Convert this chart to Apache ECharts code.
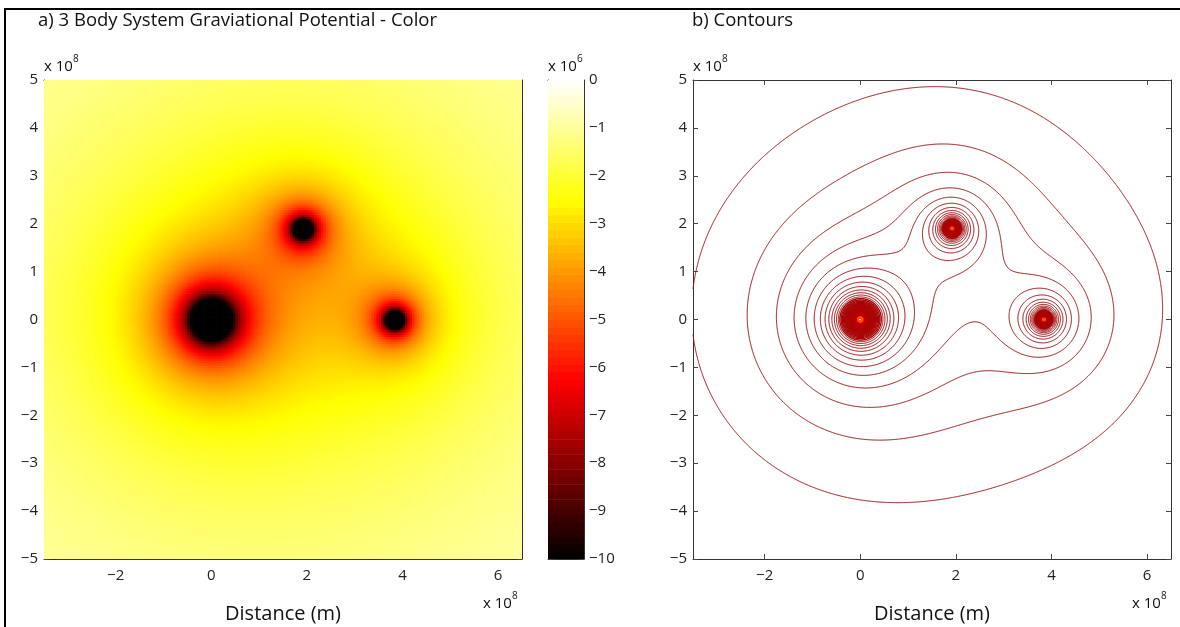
<!DOCTYPE html>
<html>
<head>
    <meta charset="utf-8" />
    <title>3 Body System Gravitational Potential</title>
    <script src="https://cdn.jsdelivr.net/npm/echarts@6/dist/echarts.min.js"></script>
    <style>
        html, body { margin: 0; padding: 0; background: #fff; }
        #main { width: 1180px; height: 627px; }
    </style>
</head>
<body>
    <div id="main"></div>
    <script>
        // bodies: positions (m) and masses (kg)
        var G = 6.674e-11;
        var bodyX = [0, 1.92e8, 3.84e8];
        var bodyY = [0, 1.90e8, 0];
        var bodyMass = [5.97e24, 2.47e24, 2.47e24];

        // axes, in units of 1e8 m
        var xRange = [-3.5, 6.5];
        var yRange = [-5, 5];
        var xTicks = [-2, 0, 2, 4, 6];
        var yTicks = [-5, -4, -3, -2, -1, 0, 1, 2, 3, 4, 5];
        // colour scale, in units of 1e6 J/kg
        var colorRange = [-10, 0];
        var colorTicks = [-10, -9, -8, -7, -6, -5, -4, -3, -2, -1, 0];
        var hotColors = ['#000000', '#550000', '#aa0000', '#ff0000', '#ff5500', '#ffaa00', '#ffff00', '#ffff80', '#ffffff'];
        // contour levels (1e6 J/kg): first level, spacing, number of levels
        var contourFirst = -1.64;
        var contourStep = 0.662;
        var contourCount = 150;

        var FONT = '"Open Sans", "DejaVu Sans", sans-serif';

        function potential(x, y) {
            var v = 0;
            for (var k = 0; k < bodyX.length; k++) {
                var dx = x * 1e8 - bodyX[k], dy = y * 1e8 - bodyY[k];
                var r = Math.max(Math.sqrt(dx * dx + dy * dy), 1e5);
                v -= G * bodyMass[k] / r;
            }
            return v / 1e6;
        }

        // colour image cells
        var cells = 200;
        var cellW = (xRange[1] - xRange[0]) / cells;
        var cellH = (yRange[1] - yRange[0]) / cells;
        var heatData = [];
        for (var j = 0; j < cells; j++) {
            for (var i = 0; i < cells; i++) {
                var cx = xRange[0] + (i + 0.5) * cellW;
                var cy = yRange[0] + (j + 0.5) * cellH;
                var v = Math.min(colorRange[1], Math.max(colorRange[0], potential(cx, cy)));
                heatData.push([cx, cy, v]);
            }
        }

        // colorbar bands (64 like the matlab map)
        var cbSteps = 64;
        var cbH = (colorRange[1] - colorRange[0]) / cbSteps;
        var cbData = [];
        for (var k = 0; k < cbSteps; k++) {
            var bv = colorRange[0] + (k + 0.5) * cbH;
            cbData.push([0.5, bv, bv]);
        }

        // contour grid
        var nx = 601, ny = 601;
        var gx = [], gy = [];
        for (var i = 0; i < nx; i++) gx.push(xRange[0] + i * (xRange[1] - xRange[0]) / (nx - 1));
        for (var j = 0; j < ny; j++) gy.push(yRange[0] + j * (yRange[1] - yRange[0]) / (ny - 1));
        var Z = new Float64Array(nx * ny);
        for (var j = 0; j < ny; j++)
            for (var i = 0; i < nx; i++) Z[j * nx + i] = potential(gx[i], gy[j]);

        function edgePoint(key, L) {
            var p = Math.floor(key / 2), i = p % nx, j = (p - i) / nx, va, vb, t;
            if (key % 2 === 0) {
                va = Z[p]; vb = Z[p + 1]; t = (L - va) / (vb - va);
                return [gx[i] + t * (gx[i + 1] - gx[i]), gy[j]];
            }
            va = Z[p]; vb = Z[p + nx]; t = (L - va) / (vb - va);
            return [gx[i], gy[j] + t * (gy[j + 1] - gy[j])];
        }

        // marching squares + joining of the pieces into polylines
        function contourLines(L) {
            var adj = new Map();
            function link(a, b) {
                if (!adj.has(a)) adj.set(a, []);
                if (!adj.has(b)) adj.set(b, []);
                adj.get(a).push(b);
                adj.get(b).push(a);
            }
            for (var j = 0; j < ny - 1; j++) {
                for (var i = 0; i < nx - 1; i++) {
                    var p = j * nx + i;
                    var v0 = Z[p], v1 = Z[p + 1], v2 = Z[p + nx + 1], v3 = Z[p + nx];
                    var c = (v0 < L ? 1 : 0) | (v1 < L ? 2 : 0) | (v2 < L ? 4 : 0) | (v3 < L ? 8 : 0);
                    if (c === 0 || c === 15) continue;
                    var e0 = p * 2, e1 = (p + 1) * 2 + 1, e2 = (p + nx) * 2, e3 = p * 2 + 1;
                    var mid = (v0 + v1 + v2 + v3) / 4 < L;
                    switch (c) {
                        case 1: case 14: link(e3, e0); break;
                        case 2: case 13: link(e0, e1); break;
                        case 3: case 12: link(e3, e1); break;
                        case 4: case 11: link(e1, e2); break;
                        case 6: case 9: link(e0, e2); break;
                        case 7: case 8: link(e3, e2); break;
                        case 5:
                            if (mid) { link(e0, e1); link(e2, e3); } else { link(e3, e0); link(e1, e2); }
                            break;
                        case 10:
                            if (mid) { link(e3, e0); link(e1, e2); } else { link(e0, e1); link(e2, e3); }
                            break;
                    }
                }
            }
            var seen = new Set(), lines = [];
            function walk(start) {
                var pts = [edgePoint(start, L)], cur = start;
                seen.add(start);
                while (true) {
                    var nb = adj.get(cur), next = null;
                    for (var n = 0; n < nb.length; n++) if (!seen.has(nb[n])) { next = nb[n]; break; }
                    if (next === null) {
                        if (pts.length > 2 && nb.indexOf(start) >= 0) pts.push(pts[0]);
                        break;
                    }
                    seen.add(next);
                    pts.push(edgePoint(next, L));
                    cur = next;
                }
                lines.push({ coords: pts });
            }
            adj.forEach(function (nb, key) { if (nb.length === 1 && !seen.has(key)) walk(key); });
            adj.forEach(function (nb, key) { if (!seen.has(key)) walk(key); });
            return lines;
        }

        // line colour: dark red outside, brighter red towards the centres
        function levelColor(L) {
            var a, b, s;
            if (L > -10) { a = [150, 20, 20]; b = [160, 10, 10]; s = (-1.6 - L) / 8.4; }
            else if (L > -70) { a = [165, 6, 6]; b = [210, 0, 0]; s = (-10 - L) / 60; }
            else { a = [210, 0, 0]; b = [255, 80, 0]; s = Math.min(1, (-70 - L) / 30); }
            return 'rgb(' + [0, 1, 2].map(function (q) { return Math.round(a[q] + (b[q] - a[q]) * s); }).join(',') + ')';
        }

        function fmt(v) { return v < 0 ? '\u2212' + (-v) : String(v); }

        function axis(gridIndex, position, range, ticks, showLabel, margin) {
            return {
                type: 'value', gridIndex: gridIndex, position: position,
                min: range[0], max: range[1],
                axisLine: { show: true, onZero: false, lineStyle: { color: '#333', width: 1 } },
                axisTick: { show: ticks.length > 0, inside: true, length: 5, customValues: ticks, lineStyle: { color: '#444' } },
                axisLabel: { show: showLabel, customValues: ticks, formatter: fmt, fontSize: 15, color: '#222', fontFamily: FONT, margin: margin || 8 },
                splitLine: { show: false }
            };
        }

        var grids = [
            { left: 44, top: 80, width: 478, height: 479 },
            { left: 548, top: 80, width: 36, height: 479 },
            { left: 693, top: 80, width: 478, height: 479 }
        ];

        var xAxes = [
            axis(0, 'bottom', xRange, xTicks, true, 9),
            axis(0, 'top', xRange, xTicks, false),
            axis(1, 'bottom', [0, 1], [], false),
            axis(1, 'top', [0, 1], [], false),
            axis(2, 'bottom', xRange, xTicks, true, 9),
            axis(2, 'top', xRange, xTicks, false)
        ];
        var yAxes = [
            axis(0, 'left', yRange, yTicks, true, 6),
            axis(0, 'right', yRange, yTicks, false),
            axis(1, 'left', colorRange, colorTicks, false),
            axis(1, 'right', colorRange, colorTicks, true, 5),
            axis(2, 'left', yRange, yTicks, true, 6),
            axis(2, 'right', yRange, yTicks, false)
        ];

        var series = [
            {
                type: 'custom', xAxisIndex: 0, yAxisIndex: 0, data: heatData, clip: true, silent: true,
                progressive: 0, progressiveThreshold: 1e7,
                encode: { x: 0, y: 1 },
                renderItem: function (params, api) {
                    var p0 = api.coord([api.value(0) - cellW / 2, api.value(1) + cellH / 2]);
                    var p1 = api.coord([api.value(0) + cellW / 2, api.value(1) - cellH / 2]);
                    return {
                        type: 'rect',
                        shape: { x: p0[0], y: p0[1], width: p1[0] - p0[0] + 0.7, height: p1[1] - p0[1] + 0.7 },
                        style: { fill: api.visual('color') }
                    };
                }
            },
            {
                type: 'custom', xAxisIndex: 2, yAxisIndex: 2, data: cbData, clip: true, silent: true,
                progressive: 0,
                encode: { x: 0, y: 1 },
                renderItem: function (params, api) {
                    var p0 = api.coord([0, api.value(1) + cbH / 2]);
                    var p1 = api.coord([1, api.value(1) - cbH / 2]);
                    return {
                        type: 'rect',
                        shape: { x: p0[0], y: p0[1], width: p1[0] - p0[0], height: p1[1] - p0[1] + 0.6 },
                        style: { fill: api.visual('color') }
                    };
                }
            }
        ];

        for (var k = 0; k < contourCount; k++) {
            var L = contourFirst - k * contourStep;
            series.push({
                type: 'lines', coordinateSystem: 'cartesian2d', xAxisIndex: 4, yAxisIndex: 4,
                polyline: true, silent: true, z: 3, progressive: 0,
                data: contourLines(L),
                lineStyle: { color: levelColor(L), width: L > -10 ? 1 : 1.4, opacity: 1 }
            });
        }

        function txt(x, y, s, size, align) {
            return {
                type: 'text', x: x, y: y, silent: true,
                style: { text: s, font: size + 'px ' + FONT, fill: '#111', textAlign: align || 'left', textVerticalAlign: 'middle' }
            };
        }

        var graphics = [
            { type: 'line', shape: { x1: 4, y1: 9, x2: 1180, y2: 9 }, style: { stroke: '#000', lineWidth: 2 } },
            { type: 'line', shape: { x1: 5, y1: 8, x2: 5, y2: 627 }, style: { stroke: '#000', lineWidth: 2 } },
            txt(38, 21, 'a) 3 Body System Graviational Potential - Color', 18.5),
            txt(692, 21, 'b) Contours', 18.5),
            txt(283, 614, 'Distance (m)', 20, 'center'),
            txt(932, 614, 'Distance (m)', 20, 'center'),
            txt(44, 67, 'x 10', 15), txt(73, 59, '8', 10),
            txt(693, 67, 'x 10', 15), txt(722, 59, '8', 10),
            txt(548, 67, 'x 10', 15), txt(577, 59, '6', 10),
            txt(483, 604, 'x 10', 15), txt(512, 596, '8', 10),
            txt(1132, 604, 'x 10', 15), txt(1161, 596, '8', 10)
        ];

        var chart = echarts.init(document.getElementById('main'), null, { renderer: 'canvas' });
        chart.setOption({
            animation: false,
            backgroundColor: '#fff',
            grid: grids,
            xAxis: xAxes,
            yAxis: yAxes,
            visualMap: {
                type: 'continuous', show: false, dimension: 2, seriesIndex: [0, 1],
                min: colorRange[0], max: colorRange[1],
                inRange: { color: hotColors }
            },
            graphic: graphics,
            series: series
        });
    </script>
</body>
</html>
